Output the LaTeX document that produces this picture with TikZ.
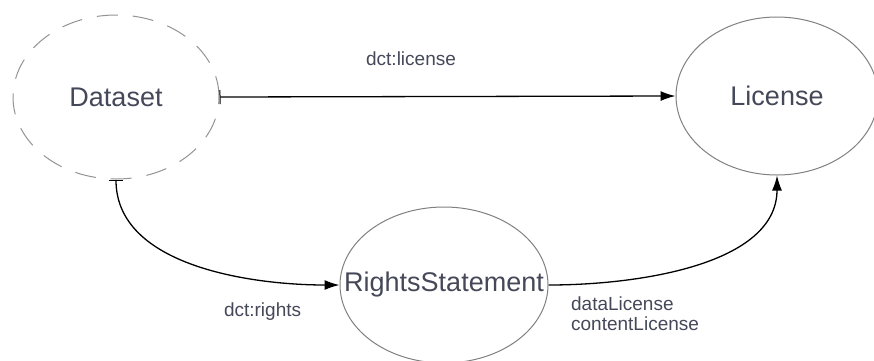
\documentclass[tikz,border=0pt]{standalone}
\usepackage{fontspec}
\setmainfont{Liberation Sans}
\usepackage{tikz}
\usetikzlibrary{shapes.geometric,arrows.meta,positioning}

\definecolor{txtgray}{RGB}{68,72,88}
\definecolor{linegray}{RGB}{128,128,128}

\begin{document}
\begin{tikzpicture}[x=1pt,y=-1pt,line width=1.3pt,
                    >={Latex[length=15pt,width=10pt]},
                    class/.style={ellipse,draw=linegray,line width=1pt,inner sep=0pt,
                                  inner xsep=-30pt,text=txtgray,font=\fontsize{27}{30}\selectfont},
                    prop/.style={text=txtgray,font=\fontsize{19}{22}\selectfont,inner sep=0pt}]

  \useasboundingbox (0,0) rectangle (874,360);

  \node[class,dashed,dash pattern=on 21pt off 15pt,draw=linegray!85,
        minimum width=206pt,minimum height=164pt] (ds) at (116,97) {Dataset};
  \node[class,minimum width=202pt,minimum height=158pt] (lic) at (777,96) {License};
  \node[class,minimum width=208pt,minimum height=156pt] (rs) at (444,285) {RightsStatement};

  \begin{scope}
    \draw[{Bar[width=14pt,line width=1pt]}->] (ds.east) -- node[prop,pos=.42,above=30pt]{dct:license} (lic.west);
    \draw[{Bar[width=14pt,line width=1pt]}->] (ds.south) to[out=-90,in=180,looseness=.9]
          node[prop,pos=.93,below=17pt,xshift=-58pt]{dct:rights} (rs.west);
    \draw[->] (rs.east) to[out=0,in=-90,looseness=.9]
          node[prop,pos=0,anchor=north west,align=left,xshift=22pt,yshift=-11pt,
               font=\fontsize{19}{20}\selectfont]{dataLicense\\contentLicense} (lic.south);
  \end{scope}
\end{tikzpicture}
\end{document}
